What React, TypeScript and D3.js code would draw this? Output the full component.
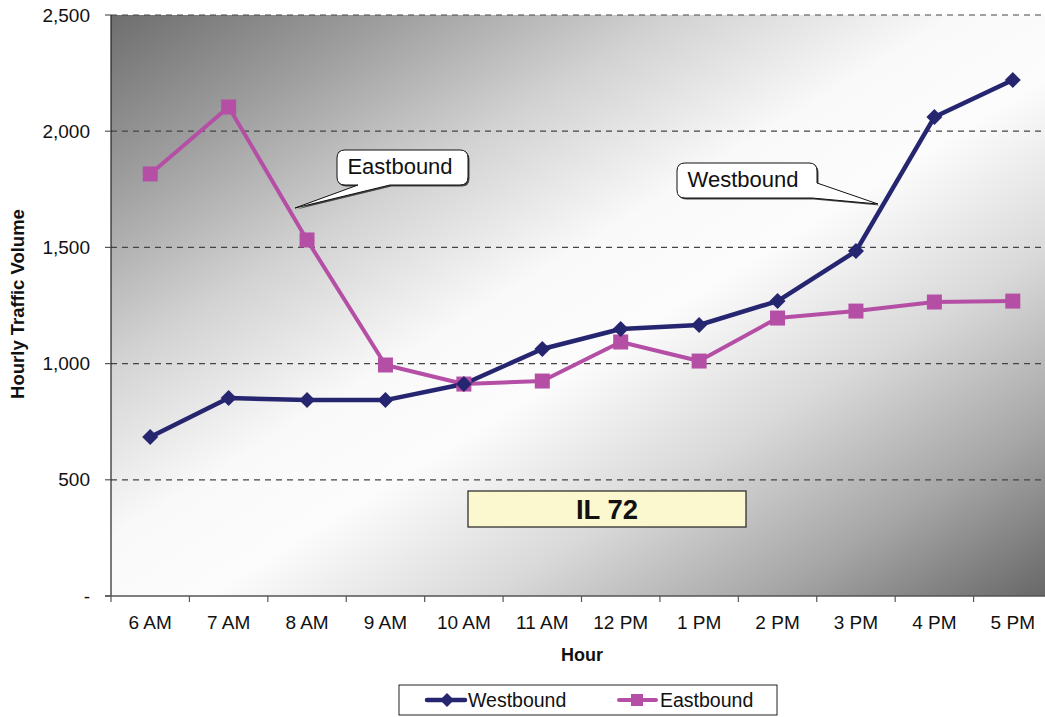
import React from "react";
import * as d3 from "d3";

const hours = ["6 AM", "7 AM", "8 AM", "9 AM", "10 AM", "11 AM", "12 PM", "1 PM", "2 PM", "3 PM", "4 PM", "5 PM"];
const westbound = [684, 852, 843, 843, 912, 1063, 1149, 1166, 1269, 1484, 2061, 2220];
const eastbound = [1816, 2104, 1532, 994, 912, 925, 1093, 1011, 1196, 1226, 1265, 1269];
const yTicks = [0, 500, 1000, 1500, 2000, 2500];

const W = 1045;
const H = 717;
const plot = { left: 111, top: 15, right: 1052, bottom: 596 };
const WEST = "#262570";
const EAST = "#b54fa5";
const FONT = "Arial, 'Liberation Sans', sans-serif";

export default function App() {
  const x = d3.scaleBand<string>().domain(hours).range([plot.left, plot.right]).padding(0);
  const y = d3.scaleLinear().domain([0, 2500]).range([plot.bottom, plot.top]);
  const cx = (h: string) => (x(h) as number) + x.bandwidth() / 2;
  const line = d3
    .line<number>()
    .x((_, i) => cx(hours[i]))
    .y((d) => y(d));
  const fmt = (v: number) => (v === 0 ? "-" : d3.format(",")(v));

  const diamond = (px: number, py: number, r: number) =>
    `M${px},${py - r}L${px + r},${py}L${px},${py + r}L${px - r},${py}Z`;

  const eastCallout =
    "M345,150H460Q468,150 468,158V177Q468,185 460,185H390L295,208L358,185H345Q337,185 337,177V158Q337,150 345,150Z";
  const westCallout =
    "M685,163H809Q817,163 817,171V183L878,204L812,198H685Q677,198 677,190V171Q677,163 685,163Z";

  const bgStops: [number, string][] = [
    [0, "#6e6e6e"],
    [0.15, "#9e9e9e"],
    [0.3, "#d2d2d2"],
    [0.45, "#f9f9f9"],
    [0.55, "#fcfcfc"],
    [0.7, "#d9d9d9"],
    [0.85, "#a6a6a6"],
    [1, "#666666"],
  ];

  return (
    <div style={{ position: "absolute", left: 0, top: 0 }}>
      <svg width={W} height={H} style={{ display: "block", fontFamily: FONT }}>
        <defs>
          <linearGradient id="bg" x1="0" y1="0" x2="1" y2="1">
            {bgStops.map(([o, c]) => (
              <stop key={o} offset={o} stopColor={c} />
            ))}
          </linearGradient>
        </defs>
        <rect x={0} y={0} width={W} height={H} fill="#fff" />
        <rect
          x={plot.left}
          y={plot.top}
          width={plot.right - plot.left}
          height={plot.bottom - plot.top}
          fill="url(#bg)"
        />

        {/* gridlines */}
        {yTicks
          .filter((t) => t > 0)
          .map((t) => (
            <line
              key={t}
              x1={plot.left}
              x2={W}
              y1={y(t)}
              y2={y(t)}
              stroke="#444"
              strokeWidth={1.2}
              strokeDasharray="6,5"
            />
          ))}

        {/* y axis */}
        <line x1={plot.left} x2={plot.left} y1={plot.top} y2={plot.bottom} stroke="#222" strokeWidth={1.2} />
        {yTicks.map((t) => (
          <g key={t}>
            <line x1={105} x2={plot.left} y1={y(t)} y2={y(t)} stroke="#555" strokeWidth={1.2} />
            <text x={90} y={y(t)} dy="0.35em" textAnchor="end" fontSize={19} fill="#111">
              {fmt(t)}
            </text>
          </g>
        ))}

        {/* x axis */}
        <line x1={105} x2={W} y1={plot.bottom} y2={plot.bottom} stroke="#555" strokeWidth={1.5} />
        {hours.map((h) => (
          <g key={h}>
            <line
              x1={x(h) as number}
              x2={x(h) as number}
              y1={plot.bottom}
              y2={plot.bottom + 6}
              stroke="#555"
              strokeWidth={1.2}
            />
            <text x={cx(h)} y={629} textAnchor="middle" fontSize={19} fill="#111">
              {h}
            </text>
          </g>
        ))}

        {/* axis titles */}
        <text x={582} y={661} textAnchor="middle" fontSize={18} fontWeight="bold" fill="#111">
          Hour
        </text>
        <text
          transform={`translate(24,${304}) rotate(-90)`}
          textAnchor="middle"
          fontSize={18.5}
          fontWeight="bold"
          fill="#111"
        >
          Hourly Traffic Volume
        </text>

        {/* series */}
        <path d={line(eastbound) || ""} fill="none" stroke={EAST} strokeWidth={4} strokeLinejoin="round" />
        <path d={line(westbound) || ""} fill="none" stroke={WEST} strokeWidth={4.5} strokeLinejoin="round" />
        {eastbound.map((v, i) => (
          <rect key={i} x={cx(hours[i]) - 7.5} y={y(v) - 7.5} width={15} height={15} fill={EAST} />
        ))}
        {westbound.map((v, i) => (
          <path key={i} d={diamond(cx(hours[i]), y(v), 8)} fill={WEST} />
        ))}

        {/* callouts */}
        <path d={eastCallout} transform="translate(1.5,1.5)" fill="#444" />
        <path d={eastCallout} fill="#fff" stroke="#111" strokeWidth={1} />
        <text x={400} y={174} textAnchor="middle" fontSize={22} fill="#111">
          Eastbound
        </text>
        <path d={westCallout} transform="translate(1.5,1.5)" fill="#444" />
        <path d={westCallout} fill="#fff" stroke="#111" strokeWidth={1} />
        <text x={743} y={187} textAnchor="middle" fontSize={22} fill="#111">
          Westbound
        </text>

        {/* route label */}
        <rect x={468} y={491} width={278} height={36} fill="#fbf8d0" stroke="#222" strokeWidth={1.2} />
        <text x={607} y={509} dy="0.36em" textAnchor="middle" fontSize={27.5} fontWeight="bold" fill="#111">
          IL 72
        </text>

        {/* legend */}
        <rect x={399} y={685} width={378} height={30} fill="#fff" stroke="#222" strokeWidth={1} />
        <line x1={427} x2={465} y1={700} y2={700} stroke={WEST} strokeWidth={4.5} strokeLinecap="round" />
        <path d={diamond(447, 700, 7)} fill={WEST} />
        <text x={468} y={700} dy="0.35em" fontSize={19.5} fill="#111">
          Westbound
        </text>
        <line x1={619} x2={656} y1={700} y2={700} stroke={EAST} strokeWidth={4} strokeLinecap="round" />
        <rect x={631} y={694} width={12} height={12} fill={EAST} />
        <text x={660} y={700} dy="0.35em" fontSize={19.5} fill="#111">
          Eastbound
        </text>
      </svg>
    </div>
  );
}
